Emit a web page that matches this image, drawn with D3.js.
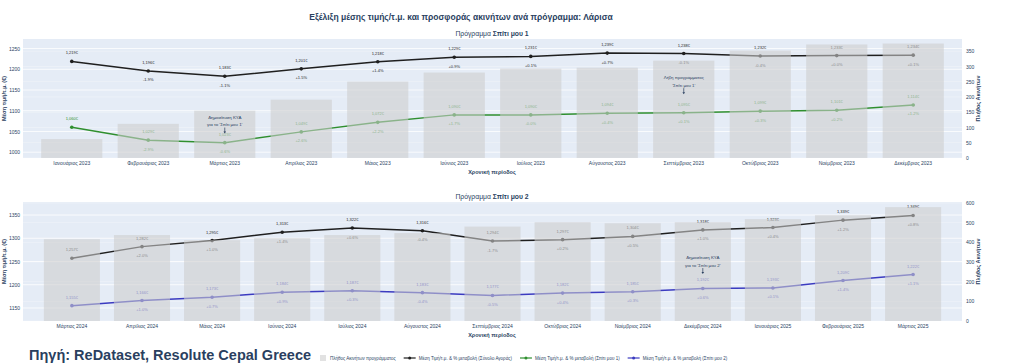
<!DOCTYPE html>
<html><head><meta charset="utf-8">
<script src="https://cdn.jsdelivr.net/npm/d3@7"></script>
<style>body{margin:0;background:#fff}svg{display:block}text{font-family:"Liberation Sans",Arial,sans-serif}</style>
</head><body><svg id="c" width="1024" height="364"></svg>
<script>
// ---------- DATA ----------
const catsTop = ["Ιανουάριος 2023","Φεβρουάριος 2023","Μάρτιος 2023","Απρίλιος 2023","Μάιος 2023","Ιούνιος 2023","Ιούλιος 2023","Αύγουστος 2023","Σεπτέμβριος 2023","Οκτώβριος 2023","Νοέμβριος 2023","Δεκέμβριος 2023"];
const barsTop = [62,112,155,191,250,280,293,296,319,352,372,375];
const totalTop = [1219,1196,1183,1201,1218,1229,1231,1239,1238,1232,1233,1234];
const totalTopPct = [null,-1.9,-1.1,1.5,1.4,0.9,0.1,0.7,-0.1,-0.4,0.0,0.1];
const prog1 = [1060,1029,1023,1049,1072,1090,1090,1094,1095,1099,1101,1114];
const prog1Pct = [null,-2.9,-0.6,2.6,2.2,1.7,-0.0,0.4,0.1,0.3,0.2,1.2];

const catsBot = ["Μάρτιος 2024","Απρίλιος 2024","Μάιος 2024","Ιούνιος 2024","Ιούλιος 2024","Αύγουστος 2024","Σεπτέμβριος 2024","Οκτώβριος 2024","Νοέμβριος 2024","Δεκέμβριος 2024","Ιανουάριος 2025","Φεβρουάριος 2025","Μάρτιος 2025"];
const barsBot = [416,437,411,421,437,447,480,502,497,502,518,538,579];
const totalBot = [1257,1282,1295,1313,1322,1316,1294,1297,1304,1318,1323,1339,1349];
const totalBotPct = [null,2.0,1.0,1.4,0.6,-0.4,-1.7,0.2,0.5,1.0,0.4,1.2,0.8];
const prog2 = [1155,1166,1173,1184,1187,1183,1177,1182,1185,1192,1193,1209,1222];
const prog2Pct = [null,1.0,0.7,0.9,0.3,-0.4,-0.5,0.4,0.3,0.6,0.1,1.4,1.1];

const leftTicksTop = [1000,1050,1100,1150,1200,1250];
const rightTicksTop = [0,50,100,150,200,250,300,350];
const leftTicksBot = [1150,1200,1250,1300,1350];
const rightTicksBot = [0,100,200,300,400,500,600];

const annTop = [{i:2, y:1045, lines:["Δημοσίευση ΚΥΑ","για το 'Σπίτι μου 1'"]},{i:8, y:1140, lines:["Λήξη προγράμματος","'Σπίτι μου 1'"]}];
const annBot = [{i:9, y:1223, lines:["Δημοσίευση ΚΥΑ","για το 'Σπίτι μου 2'"]}];

const legendItems = ["Πλήθος Ακινήτων προγράμματος","Μέση Τιμή/τ.μ. & % μεταβολή (Σύνολο Αγοράς)","Μέση Τιμή/τ.μ. & % μεταβολή (Σπίτι μου 1)","Μέση Τιμή/τ.μ. & % μεταβολή (Σπίτι μου 2)"];

// ---------- STYLE ----------
const NAVY = "#2a3f5f";
const BLACK = "#1f1f1f";
const GREEN = "#2f8f2f";
const BLUE = "#3b3bc0";
const BAR = "rgba(205,205,205,0.58)";
const svg = d3.select("#c");
const X0 = 23, X1 = 962;

const fmtV = v => d3.format(",")(v) + "€";
const fmtP = v => ((v < 0 || Object.is(v, -0)) ? "-" : "+") + Math.abs(v).toFixed(1) + "%";

svg.append("text").attr("x", 461).attr("y", 19.5).attr("text-anchor","middle")
  .attr("font-size", 8.5).attr("font-weight","bold").attr("fill", NAVY)
  .text("Εξέλιξη μέσης τιμής/τ.μ. και προσφοράς ακινήτων ανά πρόγραμμα: Λάρισα");

function panel(o) {
  const g = svg.append("g");
  const x = d3.scaleBand().domain(o.cats).range([X0, X1]).paddingInner(0.2).paddingOuter(o.po);
  const cx = c => x(c) + x.bandwidth()/2;
  const y = d3.scaleLinear().domain(o.yDom).range([o.bottom, o.top]);
  const y2 = d3.scaleLinear().domain(o.y2Dom).range([o.bottom, o.top]);

  g.append("rect").attr("x", X0).attr("y", o.top).attr("width", X1-X0).attr("height", o.bottom-o.top).attr("fill", "#e5ecf6");
  g.selectAll(".g1").data(o.lt).join("line").attr("x1",X0).attr("x2",X1).attr("y1",d=>y(d)).attr("y2",d=>y(d)).attr("stroke","#fff").attr("stroke-width",0.8);
  g.selectAll(".g2").data(o.rt).join("line").attr("x1",X0).attr("x2",X1).attr("y1",d=>y2(d)).attr("y2",d=>y2(d)).attr("stroke","#fff").attr("stroke-width",0.5).attr("opacity",0.6);

  const la = d3.axisLeft(y).tickValues(o.lt).tickFormat(d3.format("d")).tickSize(0).tickPadding(3);
  const lg = g.append("g").attr("transform",`translate(${X0},0)`).call(la);
  const ra = d3.axisRight(y2).tickValues(o.rt).tickFormat(d3.format("d")).tickSize(0).tickPadding(4);
  const rg = g.append("g").attr("transform",`translate(${X1},0)`).call(ra);
  const ba = d3.axisBottom(x).tickSize(0).tickPadding(3);
  const bg = g.append("g").attr("transform",`translate(0,${o.bottom})`).call(ba);
  [lg, rg, bg].forEach(a => { a.select(".domain").remove(); a.selectAll("text").attr("font-size", 5).attr("fill", NAVY).attr("font-family","Liberation Sans, Arial, sans-serif"); });

  function series(vals, pcts, color) {
    const line = d3.line().x((d,i)=>cx(o.cats[i])).y(d=>y(d));
    g.append("path").attr("d", line(vals)).attr("fill","none").attr("stroke", color).attr("stroke-width", 1.5);
    g.selectAll(null).data(vals).join("circle").attr("cx",(d,i)=>cx(o.cats[i])).attr("cy",d=>y(d)).attr("r",1.8).attr("fill",color);
    g.selectAll(null).data(vals).join("text").attr("x",(d,i)=>cx(o.cats[i])).attr("y",d=>y(d)-7).attr("text-anchor","middle")
      .attr("font-size",4).attr("fill",color).text(d=>fmtV(d));
    g.selectAll(null).data(pcts).join("text").attr("x",(d,i)=>cx(o.cats[i])).attr("y",(d,i)=>y(vals[i])+10.5).attr("text-anchor","middle")
      .attr("font-size",4).attr("fill",color).text(d=> d===null ? "" : fmtP(d));
  }
  series(o.total, o.totalPct, BLACK);
  series(o.prog, o.progPct, o.color);

  // bars drawn above lines (semi-transparent)
  g.selectAll(null).data(o.bars).join("rect").attr("x",(d,i)=>x(o.cats[i])).attr("width",x.bandwidth())
    .attr("y",d=>y2(d)).attr("height",d=>o.bottom-y2(d)).attr("fill",BAR);

  // annotations
  o.ann.forEach(a => {
    const ax = cx(o.cats[a.i]), ay = y(a.y);
    g.append("line").attr("x1",ax).attr("x2",ax).attr("y1",ay-6).attr("y2",ay-1.5).attr("stroke",NAVY).attr("stroke-width",0.7);
    g.append("path").attr("d",`M${ax-1.3},${ay-2} L${ax+1.3},${ay-2} L${ax},${ay} Z`).attr("fill",NAVY);
    const n = a.lines.length;
    a.lines.forEach((t,k)=> g.append("text").attr("x",ax).attr("y",ay-7.5-(n-1-k)*7.5)
      .attr("text-anchor","middle").attr("font-size",4.4).attr("fill",NAVY).text(t));
  });

  const st = g.append("text").attr("x", 492).attr("y", o.top-3.5).attr("text-anchor","middle").attr("font-size",6.8).attr("fill",NAVY);
  st.append("tspan").text("Πρόγραμμα ");
  st.append("tspan").attr("font-weight","bold").text(o.name);
  g.append("text").attr("x",492).attr("y",o.bottom+16).attr("text-anchor","middle").attr("font-size",5.5).attr("font-weight","bold").attr("fill",NAVY).text("Χρονική περίοδος");
  const mid = (o.top+o.bottom)/2;
  g.append("text").attr("transform",`translate(6,${mid}) rotate(-90)`).attr("text-anchor","middle").attr("font-size",5.5).attr("font-weight","bold").attr("fill",NAVY).text("Μέση τιμή/τ.μ. (€)");
  g.append("text").attr("transform",`translate(980,${mid}) rotate(-90)`).attr("text-anchor","middle").attr("font-size",5.5).attr("font-weight","bold").attr("fill",NAVY).text("Πλήθος Ακινήτων");
}

panel({cats:catsTop, bars:barsTop, total:totalTop, totalPct:totalTopPct, prog:prog1, progPct:prog1Pct, color:GREEN,
  po:0.2375, yDom:[986,1273], y2Dom:[0,390], top:39, bottom:158, lt:leftTicksTop, rt:rightTicksTop, ann:annTop, name:"Σπίτι μου 1"});
panel({cats:catsBot, bars:barsBot, total:totalBot, totalPct:totalBotPct, prog:prog2, progPct:prog2Pct, color:BLUE,
  po:0.2975, yDom:[1122,1378], y2Dom:[0,605], top:202, bottom:321, lt:leftTicksBot, rt:rightTicksBot, ann:annBot, name:"Σπίτι μου 2"});

svg.append("text").attr("x",29).attr("y",360).attr("font-size",14.5).attr("font-weight","bold").attr("fill",NAVY).text("Πηγή: ReDataset, Resolute Cepal Greece");

const lgY = 358;
let lx = 320;
const lgG = svg.append("g");
const colors = [null, BLACK, GREEN, BLUE];
legendItems.forEach((t,k)=>{
  if (k===0) {
    lgG.append("rect").attr("x",lx).attr("y",lgY-3).attr("width",6).attr("height",6).attr("fill",BAR);
    lx += 10;
  } else {
    lgG.append("line").attr("x1",lx).attr("x2",lx+12).attr("y1",lgY).attr("y2",lgY).attr("stroke",colors[k]).attr("stroke-width",1.2);
    lgG.append("circle").attr("cx",lx+6).attr("cy",lgY).attr("r",1.5).attr("fill",colors[k]);
    lx += 15;
  }
  const tx = lgG.append("text").attr("x",lx).attr("y",lgY+1.5).attr("font-size",4.5).attr("fill",NAVY).text(t);
  lx += tx.node().getComputedTextLength() + 8;
});
</script></body></html>
